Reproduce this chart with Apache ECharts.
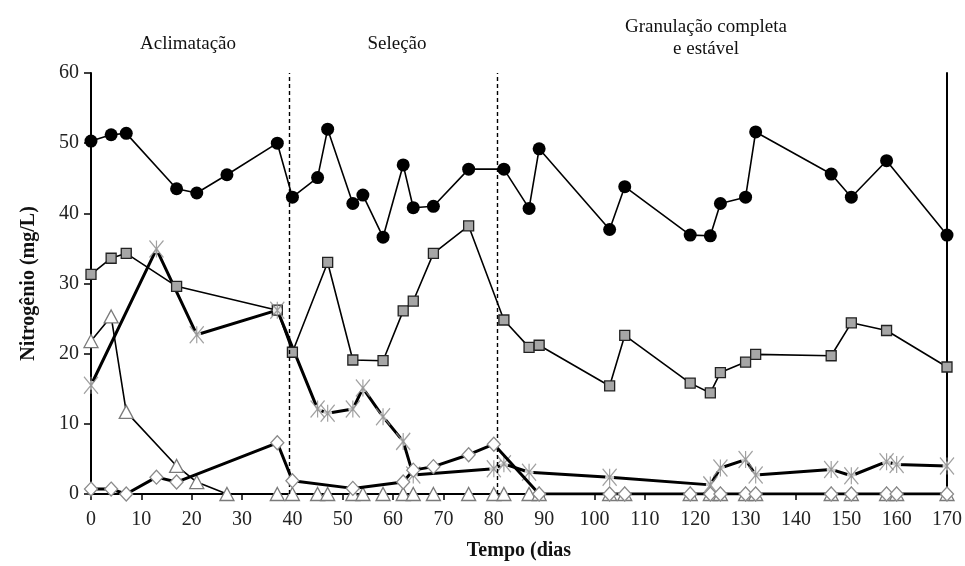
<!DOCTYPE html>
<html>
<head>
<meta charset="utf-8">
<script src="https://cdn.jsdelivr.net/npm/echarts@6/dist/echarts.min.js"></script>
<style>
  html, body { margin: 0; padding: 0; background: #fff; }
  #chart { width: 965px; height: 566px; }
</style>
</head>
<body>
<div id="chart"></div>
<script>
// Nitrogen concentrations over the reactor run (days)
const circleDays = [0,4,7,17,21,27,37,40,45,47,52,54,58,62,64,68,75,82,87,89,103,106,119,123,125,130,132,147,151,158,170];
const circleVals = [50.3,51.2,51.4,43.5,42.9,45.5,50.0,42.3,45.1,52.0,41.4,42.6,36.6,46.9,40.8,41.0,46.3,46.3,40.7,49.2,37.7,43.8,36.9,36.8,41.4,42.3,51.6,45.6,42.3,47.5,36.9];

const squareDays = [0,4,7,17,37,40,47,52,58,62,64,68,75,82,87,89,103,106,119,123,125,130,132,147,151,158,170];
const squareVals = [31.3,33.6,34.3,29.6,26.2,20.2,33.0,19.1,19.0,26.1,27.5,34.3,38.2,24.8,20.9,21.2,15.4,22.6,15.8,14.4,17.3,18.8,19.9,19.7,24.4,23.3,18.1];

const triangleDays = [0,4,7,17,21,27,37,40,45,47,52,54,58,62,64,68,75,80,82,87,89,103,106,119,123,125,130,132,147,151,158,160,170];
const triangleVals = [21.8,25.3,11.7,4.0,1.7,0,0,0,0,0,0,0,0,0,0,0,0,0,0,0,0,0,0,0,0,0,0,0,0,0,0,0,0];

const starDays = [0,13,21,37,45,47,52,54,58,62,64,80,82,87,103,123,125,130,132,147,151,158,160,170];
const starVals = [15.5,34.9,22.7,26.2,12.1,11.5,12.1,15.1,11.0,7.5,2.7,3.6,4.3,3.1,2.4,1.3,3.7,4.9,2.7,3.5,2.6,4.6,4.2,4.0];

const diamondDays = [0,4,7,13,17,37,40,52,62,64,68,75,80,89,103,106,119,123,125,130,132,147,151,158,160,170];
const diamondVals = [0.7,0.7,0,2.4,1.7,7.3,1.9,0.8,1.7,3.4,3.9,5.6,7.1,0,0,0,0,0,0,0,0,0,0,0,0,0];

// Phase boundaries and phase names
const phaseBounds = [39.4, 80.6];
const phaseNames = ['Aclimatação', 'Seleção', 'Granulação completa\ne estável'];

const xTicks = { min: 0, max: 170, interval: 10 };
const yTicks = { min: 0, max: 60, interval: 10 };

const pairs = (xs, ys) => xs.map((x, i) => [x, ys[i]]);

const FONT = '"Liberation Serif", "DejaVu Serif", serif';
const starPath = 'path://M0,-10L0,10M-7,-10L7,10M7,-10L-7,10';

const chart = echarts.init(document.getElementById('chart'), null, { renderer: 'canvas' });

const phaseTitle = (text, left, top) => ({
  text, left, top, textAlign: 'center',
  textStyle: { fontFamily: FONT, fontSize: 19, fontWeight: 'normal', color: '#111', lineHeight: 22, align: 'center' }
});

chart.setOption({
  animation: false,
  backgroundColor: '#ffffff',
  grid: { left: 91, right: 18, top: 73, bottom: 70 },
  title: [
    phaseTitle(phaseNames[0], 183, 28),
    phaseTitle(phaseNames[1], 392, 28),
    phaseTitle(phaseNames[2], 701, 11)
  ],
  xAxis: {
    type: 'value',
    min: xTicks.min, max: xTicks.max, interval: xTicks.interval,
    name: 'Tempo (dias',
    nameLocation: 'middle',
    nameGap: 47,
    nameTextStyle: { fontFamily: FONT, fontSize: 20, fontWeight: 'bold', color: '#111' },
    axisLine: { show: true, onZero: false, lineStyle: { color: '#000', width: 2 } },
    axisTick: { show: true, inside: false, length: 6, lineStyle: { color: '#000', width: 1.5 } },
    axisLabel: { fontFamily: FONT, fontSize: 20, color: '#222', margin: 16 },
    splitLine: { show: false }
  },
  yAxis: [
    {
      type: 'value',
      min: yTicks.min, max: yTicks.max, interval: yTicks.interval,
      name: 'Nitrogênio (mg/L)',
      nameLocation: 'middle',
      nameGap: 52,
      nameRotate: 90,
      nameTextStyle: { fontFamily: FONT, fontSize: 20, fontWeight: 'bold', color: '#111' },
      axisLine: { show: true, lineStyle: { color: '#000', width: 2 } },
      axisTick: { show: true, inside: false, length: 7, lineStyle: { color: '#000', width: 1.5 } },
      axisLabel: { fontFamily: FONT, fontSize: 20, color: '#222', margin: 12 },
      splitLine: { show: false }
    },
    {
      type: 'value', position: 'right',
      min: yTicks.min, max: yTicks.max, interval: yTicks.interval,
      axisLine: { show: true, lineStyle: { color: '#000', width: 2 } },
      axisTick: { show: false }, axisLabel: { show: false }, splitLine: { show: false }
    }
  ],
  series: [
    {
      name: 'circles', type: 'line', z: 2,
      data: pairs(circleDays, circleVals),
      symbol: 'circle', symbolSize: 13,
      itemStyle: { color: '#000' },
      lineStyle: { color: '#000', width: 1.6 },
      markLine: {
        silent: true, symbol: 'none', label: { show: false },
        lineStyle: { color: '#000', type: [4, 3], width: 1.4 },
        data: phaseBounds.map(v => ({ xAxis: v }))
      }
    },
    {
      name: 'squares', type: 'line', z: 2,
      data: pairs(squareDays, squareVals),
      symbol: 'rect', symbolSize: 10,
      itemStyle: { color: '#a6a6a6', borderColor: '#222', borderWidth: 1.3 },
      lineStyle: { color: '#000', width: 1.6 }
    },
    {
      name: 'triangles', type: 'line', z: 2,
      data: pairs(triangleDays, triangleVals),
      symbol: 'triangle', symbolSize: [14, 13],
      itemStyle: { color: '#fff', borderColor: '#7a7a7a', borderWidth: 1.3 },
      lineStyle: { color: '#000', width: 1.6 }
    },
    {
      name: 'stars-line', type: 'line', z: 2,
      data: pairs(starDays, starVals),
      showSymbol: false, symbol: 'none',
      lineStyle: { color: '#000', width: 3 }
    },
    {
      name: 'stars-halo', type: 'scatter', z: 3,
      data: pairs(starDays, starVals),
      symbol: 'circle', symbolSize: 9,
      itemStyle: { color: '#fff' }, silent: true
    },
    {
      name: 'stars', type: 'scatter', z: 4,
      data: pairs(starDays, starVals),
      symbol: starPath, symbolSize: [14, 17],
      itemStyle: { color: 'none', borderColor: '#8a8a8a', borderWidth: 1.3 }
    },
    {
      name: 'diamonds', type: 'line', z: 5,
      data: pairs(diamondDays, diamondVals),
      symbol: 'diamond', symbolSize: [13, 14],
      itemStyle: { color: '#fff', borderColor: '#8a8a8a', borderWidth: 1.3 },
      lineStyle: { color: '#000', width: 3 }
    }
  ]
});
</script>
</body>
</html>
